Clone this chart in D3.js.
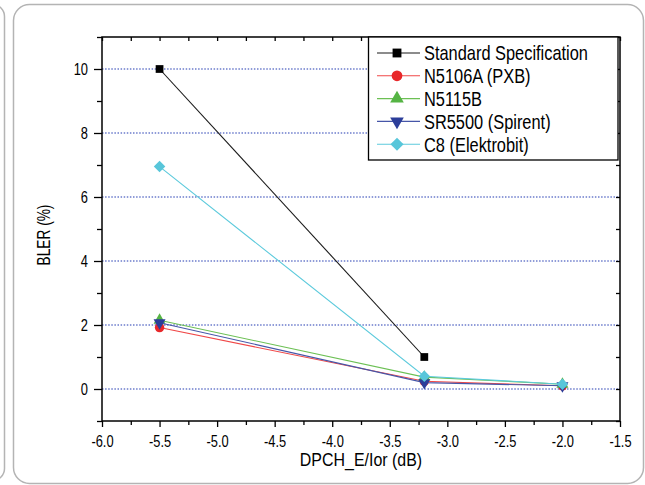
<!DOCTYPE html>
<html>
<head>
<meta charset="utf-8">
<script src="https://cdn.jsdelivr.net/npm/d3@7"></script>
<style>
  body { margin: 0; background: #fff; }
  text { font-family: "Liberation Sans", Arial, sans-serif; }
</style>
</head>
<body>
<div id="container"></div>
<script>
// data
const xTicks = [-6.0, -5.5, -5.0, -4.5, -4.0, -3.5, -3.0, -2.5, -2.0, -1.5];
const xMinor = [-5.75, -5.25, -4.75, -4.25, -3.75, -3.25, -2.75, -2.25, -1.75];
const yTicks = [0, 2, 4, 6, 8, 10];
const yMinor = [-1, 1, 3, 5, 7, 9, 11];

const specX = [-5.5, -3.2];
const specY = [10.0, 1.0];
const pxbX = [-5.5, -3.2, -2.0];
const pxbY = [1.92, 0.24, 0.10];
const n5115X = [-5.5, -3.2, -2.0];
const n5115Y = [2.15, 0.37, 0.15];
const sr5500X = [-5.5, -3.2, -2.0];
const sr5500Y = [2.07, 0.20, 0.10];
const c8X = [-5.5, -3.2, -2.0];
const c8Y = [6.95, 0.40, 0.15];

const seriesNames = ["Standard Specification", "N5106A (PXB)", "N5115B", "SR5500 (Spirent)", "C8 (Elektrobit)"];

const width = 645;
const height = 485;
const squeeze = 0.78; // condensed look for the type

const svg = d3.create("svg")
    .attr("width", width)
    .attr("height", height);

// panel borders
svg.append("rect")
  .attr("x", -20).attr("y", 4.5)
  .attr("width", 24.5).attr("height", 476)
  .attr("rx", 12)
  .attr("fill", "none").attr("stroke", "#b4b4b4").attr("stroke-width", 1.5);
svg.append("rect")
  .attr("x", 13.5).attr("y", 4.5)
  .attr("width", 630).attr("height", 479)
  .attr("rx", 16)
  .attr("fill", "none").attr("stroke", "#b4b4b4").attr("stroke-width", 1.5);

const x = d3.scaleLinear().domain([-6, -1.5]).range([102, 620]);
const y = d3.scaleLinear().domain([-1, 11]).range([421, 37]);

const fmt = d => d.toFixed(1);

// dotted grid
svg.append("g")
  .selectAll("line")
  .data(yTicks)
  .join("line")
  .attr("x1", x(-6)).attr("x2", x(-1.5))
  .attr("y1", d => y(d)).attr("y2", d => y(d))
  .attr("stroke", "#6c7ccc")
  .attr("stroke-width", 1.3)
  .attr("stroke-dasharray", "1.5,1.6");

// axes
function styleAxis(g) {
  g.select(".domain").remove();
  g.selectAll("line").attr("stroke", "#000").attr("stroke-width", 1.3);
  g.selectAll("text").attr("fill", "#000").style("font-size", "16.5px");
}

svg.append("g")
  .attr("transform", `translate(0,${y(-1)})`)
  .call(d3.axisBottom(x).tickValues(xTicks).tickFormat(fmt).tickSize(6).tickPadding(8))
  .call(styleAxis)
  .call(g => g.selectAll("text").attr("transform", `scale(${squeeze},1)`));
svg.append("g")
  .attr("transform", `translate(0,${y(-1)})`)
  .call(d3.axisBottom(x).tickValues(xMinor).tickFormat("").tickSize(4))
  .call(styleAxis);
svg.append("g")
  .attr("transform", `translate(0,${y(11)})`)
  .call(d3.axisBottom(x).tickValues(xTicks.concat(xMinor)).tickFormat("").tickSize(4))
  .call(styleAxis);

svg.append("g")
  .attr("transform", `translate(${x(-6)},0)`)
  .call(d3.axisLeft(y).tickValues(yTicks).tickFormat(d => String(d)).tickSize(8).tickPadding(6))
  .call(styleAxis)
  .call(g => g.selectAll("text").attr("x", -14 / squeeze).attr("transform", `scale(${squeeze},1)`));
svg.append("g")
  .attr("transform", `translate(${x(-6)},0)`)
  .call(d3.axisLeft(y).tickValues(yMinor).tickFormat("").tickSize(5))
  .call(styleAxis);
svg.append("g")
  .attr("transform", `translate(${x(-1.5)},0)`)
  .call(d3.axisLeft(y).tickValues(yTicks.concat(yMinor)).tickFormat("").tickSize(4))
  .call(styleAxis);

// frame
svg.append("rect")
  .attr("x", x(-6)).attr("y", y(11))
  .attr("width", x(-1.5) - x(-6)).attr("height", y(-1) - y(11))
  .attr("fill", "none").attr("stroke", "#000").attr("stroke-width", 1.5);

// axis titles
svg.append("text")
  .attr("transform", `translate(${(x(-6) + x(-1.5)) / 2},466) scale(0.84,1)`)
  .attr("text-anchor", "middle")
  .style("font-size", "19px")
  .text("DPCH_E/Ior (dB)");
svg.append("text")
  .attr("transform", `translate(50,235) rotate(-90) scale(0.74,1)`)
  .attr("text-anchor", "middle")
  .style("font-size", "18.5px")
  .text("BLER (%)");

// series
const series = [
  { xs: specX, ys: specY, line: "#1a1a1a", fill: "#000", sym: d3.symbolSquare, size: 60 },
  { xs: pxbX, ys: pxbY, line: "#f04848", fill: "#e8282a", sym: d3.symbolCircle, size: 70 },
  { xs: n5115X, ys: n5115Y, line: "#6cc054", fill: "#55b444", sym: d3.symbolTriangle, size: 62 },
  { xs: sr5500X, ys: sr5500Y, line: "#4656a8", fill: "#2c3e9a", sym: d3.symbolTriangle, size: 62, rot: 180 },
  { xs: c8X, ys: c8Y, line: "#5ccadc", fill: "#58c6da", sym: d3.symbolSquare, size: 66, rot: 45 }
];

const line = d3.line().x(d => x(d[0])).y(d => y(d[1]));

series.forEach(s => {
  const pts = s.xs.map((v, i) => [v, s.ys[i]]);
  svg.append("path")
    .attr("d", line(pts))
    .attr("fill", "none")
    .attr("stroke", s.line)
    .attr("stroke-width", 1.1);
  svg.append("g")
    .selectAll("path")
    .data(pts)
    .join("path")
    .attr("d", d3.symbol(s.sym, s.size))
    .attr("transform", d => `translate(${x(d[0])},${y(d[1])})` + (s.rot ? ` rotate(${s.rot})` : ""))
    .attr("fill", s.fill);
});

// legend
const lg = svg.append("g");
lg.append("rect")
  .attr("x", 368.5).attr("y", y(11))
  .attr("width", 618 - 368.5).attr("height", 123)
  .attr("fill", "#fff").attr("stroke", "#000").attr("stroke-width", 1.3);

series.forEach((s, i) => {
  const yy = 53 + i * 22.8;
  lg.append("line")
    .attr("x1", 377).attr("x2", 420)
    .attr("y1", yy).attr("y2", yy)
    .attr("stroke", s.line).attr("stroke-width", 1.1);
  lg.append("path")
    .attr("d", d3.symbol(s.sym, s.size * 1.3))
    .attr("transform", `translate(397,${yy})` + (s.rot ? ` rotate(${s.rot})` : ""))
    .attr("fill", s.fill);
  lg.append("text")
    .attr("transform", `translate(424,${yy}) scale(0.8,1)`)
    .attr("dy", "0.36em")
    .style("font-size", "20.5px")
    .text(seriesNames[i]);
});

container.append(svg.node());
</script>
</body>
</html>
